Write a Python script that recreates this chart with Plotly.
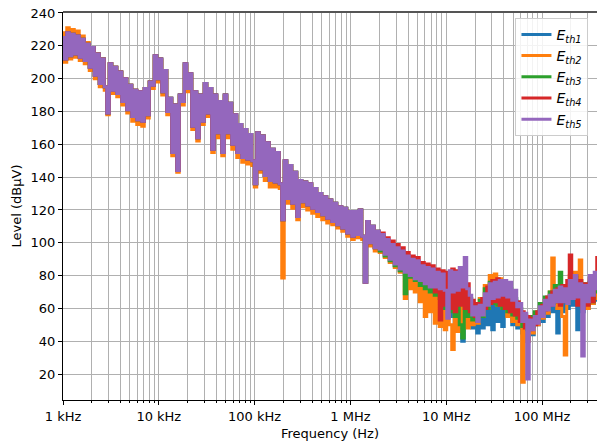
import numpy as np
import plotly.graph_objects as go

# ---------------- data ----------------
# measurement sweep (log-spaced frequency points)
f_start = 1e3
f_stop = 3.84e8
n_points = 215

series_names = ["<i>E</i><sub><i>th1</i></sub>", "<i>E</i><sub><i>th2</i></sub>",
                "<i>E</i><sub><i>th3</i></sub>", "<i>E</i><sub><i>th4</i></sub>",
                "<i>E</i><sub><i>th5</i></sub>"]
series_colors = ["#1f77b4", "#ff7f0e", "#2ca02c", "#d62728", "#9467bd"]

# low-frequency part (1 kHz .. ~2 MHz), common level
lf_common = [225, 212, 228, 214, 227, 215, 226, 213, 224, 211,
             221, 207, 219, 202, 215, 197, 212, 195, 179, 209,
             193, 207, 191, 204, 186, 200, 181, 196, 177, 193,
             175, 192, 174, 194, 178, 198, 196, 214, 200, 212,
             192, 205, 180, 188, 155, 184, 144, 190, 186, 209,
             194, 203, 171, 192, 164, 190, 174, 197, 179, 194,
             157, 190, 167, 186, 155, 190, 167, 185, 160, 178,
             155, 172, 152, 169, 151, 166, 150, 136, 167, 145,
             165, 141, 161, 138, 157, 137, 155, 136, 114, 150,
             127, 147, 124, 143, 116, 138, 125, 137, 123, 136,
             121, 133, 119, 130, 117, 128, 115, 126, 113, 124,
             111, 122, 109, 121, 106, 119, 104, 119, 105, 120,
             104, 76, 113, 100, 110, 97, 107]

# low-frequency part of E_th2 (slightly wider band)
lf_th2 = [228, 210, 231, 212, 230, 213, 229, 211, 226, 209,
          222, 205, 219, 200, 215, 195, 212, 193, 178, 209,
          191, 207, 189, 204, 184, 200, 179, 196, 174, 193,
          172, 192, 171, 194, 176, 198, 194, 213, 198, 211,
          190, 204, 178, 187, 153, 183, 143, 189, 184, 208,
          192, 202, 169, 191, 162, 189, 172, 196, 177, 193,
          155, 189, 164, 185, 153, 189, 164, 184, 157, 177,
          152, 171, 149, 168, 148, 165, 147, 134, 166, 143,
          164, 138, 160, 134, 156, 134, 154, 133, 78.5, 149,
          124, 146, 121, 142, 114, 137, 122, 136, 120, 135,
          118, 132, 116, 129, 114, 127, 112, 125, 111, 123,
          109, 121, 107, 120, 104, 118, 102, 118, 103, 119,
          102, 100, 112, 98, 109, 95, 106]

# high-frequency part (~2 MHz .. ~380 MHz), one list per series
hf_th1 = [95, 103, 92, 100, 89, 97, 86, 95, 83, 93,
          81, 90, 79, 88, 77, 86, 75, 84, 73, 83,
          71, 81, 70, 80, 68, 76, 60, 74, 55, 72,
          50, 70, 48, 40, 66, 50, 62, 48, 58, 45,
          60, 48, 66, 50, 70, 47, 72, 52, 73, 49,
          72, 55, 70, 50, 65, 48, 58, 45, 52, 40,
          50, 44, 54, 50, 58, 52, 63, 55, 66, 58,
          68, 45, 70, 58, 68, 60, 74, 62, 76, 47,
          72, 58, 70, 60, 76, 63, 74, 65]
hf_th2 = [94, 104, 91, 100, 88, 97, 85, 95, 82, 93,
          66, 90, 72, 88, 70, 86, 64, 84, 55, 80,
          58, 78, 51, 77, 49, 76, 47, 70, 50, 35,
          70, 46, 72, 49, 70, 48, 65, 50, 60, 51,
          66, 55, 74, 60, 80, 63, 81, 62, 78, 60,
          74, 55, 70, 52, 64, 50, 55, 15, 50, 40,
          52, 45, 56, 50, 60, 54, 65, 57, 70, 90.7,
          72, 60, 72, 55, 31.6, 66, 80, 67, 82, 68,
          89.5, 62, 72, 60, 75, 63, 72, 66]
hf_th3 = [95, 104, 92, 101, 89, 98, 86, 96, 83, 94,
          69, 91, 79, 89, 77, 88, 74, 85, 72, 84,
          70, 83, 68, 81, 66, 80, 60, 78, 58, 80,
          55, 78, 50, 42, 72, 55, 66, 53, 62, 52,
          65, 55, 72, 60, 76, 63, 77, 62, 76, 60,
          74, 58, 72, 56, 66, 54, 60, 49, 56, 47,
          55, 49, 58, 53, 63, 57, 67, 60, 70, 63,
          74, 64, 82, 65, 74, 63, 76, 66, 79, 65,
          77, 64, 75, 63, 76, 64, 74, 70]
hf_th4 = [97, 106, 94, 103, 91, 101, 88, 99, 86, 97,
          84, 94, 82, 92, 80, 91, 78, 88, 76, 87,
          74, 86, 70, 84, 53, 83, 62, 82, 60, 84,
          58, 83, 62, 80, 60, 75, 58, 65, 55, 63,
          57, 66, 60, 73, 63, 77, 64, 78, 62, 76,
          60, 74, 58, 70, 56, 64, 52, 58, 48, 55,
          47, 54, 50, 58, 55, 62, 59, 67, 62, 70,
          64, 72, 62, 74, 64, 77, 92.5, 66, 80, 62,
          77, 60, 75, 62, 78, 64, 80, 91]
hf_th5 = [96, 105, 93, 102, 90, 99, 87, 97, 84, 95,
          82, 92, 80, 90, 78, 89, 77, 86, 75, 85,
          73, 84, 73, 82, 72, 81, 71, 54, 83, 70,
          82, 71, 85, 73, 91, 72, 68, 56, 61, 52,
          62, 56, 69, 62, 75, 66, 76, 67, 77, 68,
          77, 67, 76, 65, 71, 61, 63, 52, 57, 17,
          53, 47, 55, 51, 61, 55, 65, 59, 68, 62,
          71, 64, 73, 64, 72, 63, 77, 66, 80, 67,
          75, 31, 74, 64, 80, 68, 82, 72]

levels = [lf_common + hf_th1, lf_th2 + hf_th2, lf_common + hf_th3,
          lf_common + hf_th4, lf_common + hf_th5]

x_tick_vals = [1e3, 1e4, 1e5, 1e6, 1e7, 1e8]
x_tick_text = ["1 kHz", "10 kHz", "100 kHz", "1 MHz", "10 MHz", "100 MHz"]
y_tick_vals = list(range(20, 241, 20))

# ---------------- figure ----------------
freq = np.logspace(np.log10(f_start), np.log10(f_stop), n_points)

fig = go.Figure()
for name, color, lv in zip(series_names, series_colors, levels):
    fig.add_trace(go.Scatter(x=freq, y=lv, mode="lines", name=name,
                             line=dict(color=color, width=3, shape="hvh", simplify=False)))

minor_vals = [m * 10 ** e for e in range(3, 9) for m in range(2, 10)]

font_family = "DejaVu Sans, sans-serif"
fig.update_layout(
    width=597, height=446,
    margin=dict(l=63, r=0, t=12, b=46),
    paper_bgcolor="white", plot_bgcolor="white",
    font=dict(family=font_family, size=13, color="black"),
    showlegend=True,
    legend=dict(x=0.984, y=0.985, xanchor="right", yanchor="top",
                bgcolor="rgba(255,255,255,0.85)", bordercolor="#cccccc", borderwidth=1,
                font=dict(size=14), tracegroupgap=0, itemwidth=30),
)
fig.update_xaxes(
    type="log", range=[3, np.log10(3.75e8)], automargin=False,
    tickmode="array", tickvals=x_tick_vals, ticktext=x_tick_text,
    ticks="outside", ticklen=4, tickcolor="black", tickwidth=1,
    showline=True, linecolor="black", linewidth=1, mirror=False,
    showgrid=True, gridcolor="#b0b0b0", gridwidth=1,
    minor=dict(tickmode="array", tickvals=minor_vals, ticks="outside", ticklen=2,
               tickcolor="black", showgrid=True, gridcolor="#b0b0b0", gridwidth=1),
    title=dict(text="Frequency (Hz)", font=dict(size=13), standoff=6),
    tickfont=dict(size=13), zeroline=False,
)
fig.update_yaxes(
    range=[4.2, 240.6], automargin=False,
    tickmode="array", tickvals=y_tick_vals,
    ticks="outside", ticklen=4, tickcolor="black", tickwidth=1,
    showline=True, linecolor="black", linewidth=1,
    showgrid=True, gridcolor="#b0b0b0", gridwidth=1,
    title=dict(text="Level (dBμV)", font=dict(size=13), standoff=6),
    tickfont=dict(size=13), zeroline=False,
)
# top frame line
fig.add_shape(type="line", xref="paper", yref="paper", x0=0, x1=1, y0=1, y1=1,
              line=dict(color="#555555", width=2))

fig.write_html("out.html", config={"displayModeBar": False},
               post_script="document.body.style.margin='0px';")
